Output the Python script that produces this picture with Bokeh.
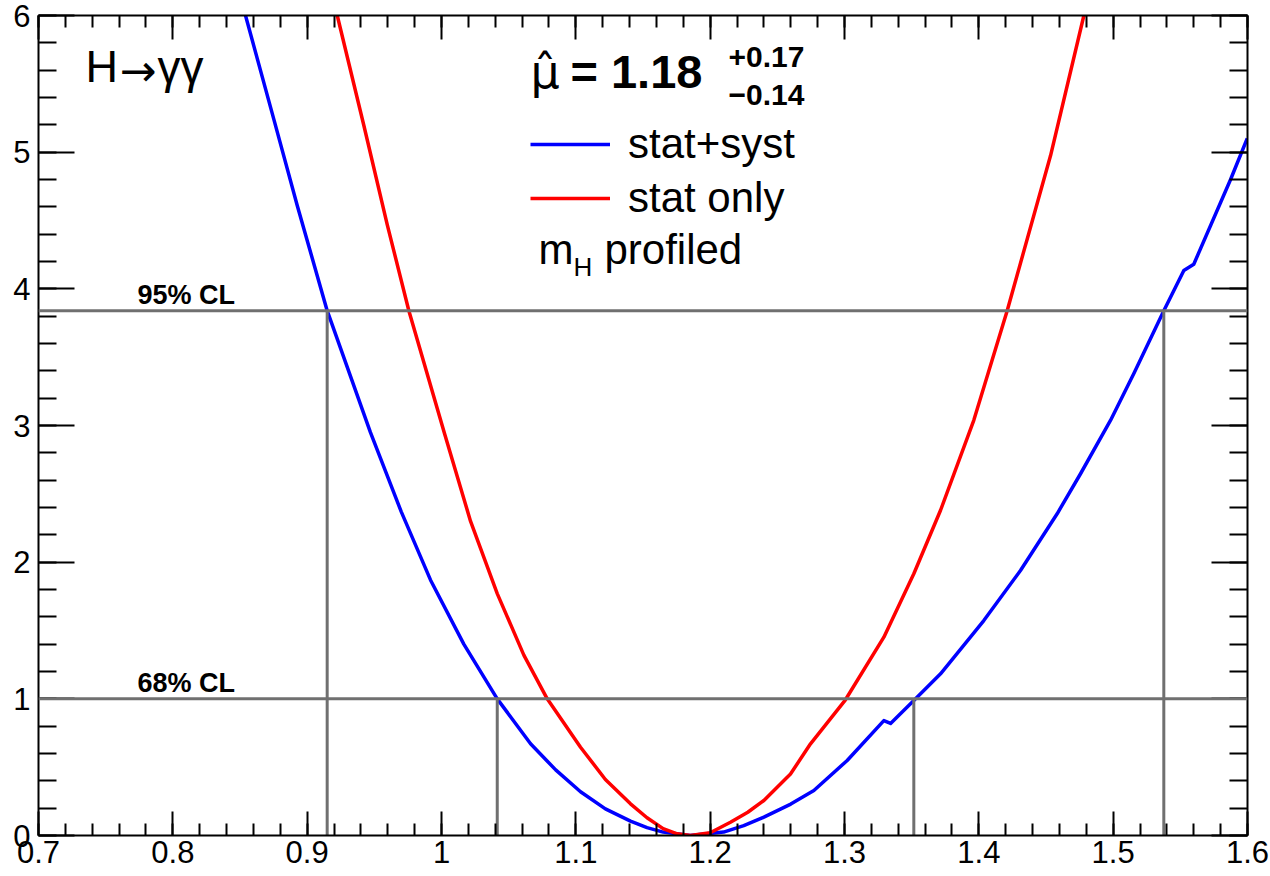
from bokeh.plotting import figure
from bokeh.models import (Range1d, LinearAxis, SingleIntervalTicker, CustomJSTickFormatter,
                          Label, Span, Legend, LegendItem)
from bokeh.embed import file_html
from bokeh.resources import INLINE

# ---- data ----
blue_x = [0.8541, 0.8752, 0.8926, 0.9149, 0.9471, 0.9700, 0.9918, 1.0166, 1.0415, 1.0663,
          1.0850, 1.1035, 1.1220, 1.1407, 1.1530, 1.1650, 1.1850, 1.2100, 1.2250, 1.2400,
          1.2600, 1.2772, 1.3020, 1.3293, 1.3343, 1.3516, 1.3715, 1.4037, 1.4310, 1.4583,
          1.4757, 1.4980, 1.5154, 1.5377, 1.5526, 1.5600, 1.5874, 1.5998]
blue_y = [6.00, 5.24, 4.61, 3.84, 2.95, 2.37, 1.87, 1.40, 1.00, 0.671,
          0.48, 0.32, 0.195, 0.105, 0.058, 0.025, 0.0, 0.025, 0.072, 0.134,
          0.23, 0.329, 0.549, 0.841, 0.82, 0.988, 1.183, 1.573, 1.939, 2.354,
          2.647, 3.037, 3.38, 3.84, 4.134, 4.18, 4.80, 5.10]

red_x = [0.9224, 0.9422, 0.9596, 0.9757, 1.0023, 1.0216, 1.0415, 1.0613, 1.0787, 1.1035,
         1.1220, 1.1407, 1.1530, 1.1650, 1.1754, 1.1854, 1.2000, 1.2151, 1.2280, 1.2400,
         1.2598, 1.2747, 1.3007, 1.3293, 1.3516, 1.3715, 1.3963, 1.4211, 1.4534, 1.4782]
red_y = [6.00, 5.195, 4.47, 3.84, 2.94, 2.30, 1.77, 1.32, 1.00, 0.646,
         0.41, 0.232, 0.13, 0.05, 0.012, 0.0, 0.02, 0.097, 0.17, 0.256,
         0.45, 0.671, 0.993, 1.451, 1.915, 2.38, 3.04, 3.84, 4.975, 6.00]

cl_levels = [1.0, 3.84]
cl_labels = ["68% CL", "95% CL"]
cl_lo = [1.0415, 0.9149]
cl_hi = [1.3516, 1.5377]

x_range = (0.7, 1.6)
y_range = (0.0, 6.0)

FONT = "Liberation Sans"

p = figure(width=1270, height=876, output_backend="svg", toolbar_location=None,
           x_range=Range1d(*x_range), y_range=Range1d(*y_range),
           min_border_left=38, min_border_right=23, min_border_top=15, min_border_bottom=41,
           x_axis_location=None, y_axis_location=None)
p.grid.visible = False
p.outline_line_color = None
p.background_fill_color = "white"
p.border_fill_color = "white"

fmt = CustomJSTickFormatter(code="return Number(tick.toFixed(2)).toString();")
empty_fmt = CustomJSTickFormatter(code="return '';")


def make_axis(kind, show_labels):
    ax = LinearAxis()
    if kind == "x":
        ax.ticker = SingleIntervalTicker(interval=0.1, num_minor_ticks=5)
        ax.major_tick_in, ax.minor_tick_in = 24, 12
    else:
        ax.ticker = SingleIntervalTicker(interval=1.0, num_minor_ticks=5)
        ax.major_tick_in, ax.minor_tick_in = 36, 18
    ax.major_tick_out = 0
    ax.minor_tick_out = 0
    ax.axis_line_width = 2
    ax.major_tick_line_width = 2
    ax.minor_tick_line_width = 2
    ax.axis_line_color = "black"
    ax.major_tick_line_color = "black"
    ax.minor_tick_line_color = "black"
    if show_labels:
        ax.formatter = fmt
        ax.major_label_text_font = FONT
        ax.major_label_text_font_size = "31px"
        ax.major_label_text_color = "black"
    else:
        ax.formatter = empty_fmt
        ax.major_label_text_font_size = "1px"
        ax.major_label_standoff = 0
    return ax


xb = make_axis("x", True)
xb.major_label_standoff = 5
p.add_layout(xb, "below")
p.add_layout(make_axis("x", False), "above")
yl = make_axis("y", True)
yl.major_label_standoff = 8
p.add_layout(yl, "left")
p.add_layout(make_axis("y", False), "right")

# curves
rb = p.line(blue_x, blue_y, line_color="#0000ff", line_width=3.5, line_join="round")
rr = p.line(red_x, red_y, line_color="#ff0000", line_width=3.5, line_join="round")

# CL lines
GRAY = "#707070"
for lev in cl_levels:
    p.add_layout(Span(location=lev, dimension="width", line_color=GRAY, line_width=3))
p.segment(x0=cl_lo, y0=[0, 0], x1=cl_lo, y1=cl_levels, line_color=GRAY, line_width=3)
p.segment(x0=cl_hi, y0=[0, 0], x1=cl_hi, y1=cl_levels, line_color=GRAY, line_width=3)

for lev, lab in zip(cl_levels, cl_labels):
    p.add_layout(Label(x=0.7737, y=lev + 0.115, text=lab, text_font=FONT, text_font_size="27px",
                       text_font_style="bold", text_baseline="alphabetic", text_color="black"))


def lbl(x, y, text, size, bold=False, font=FONT):
    p.add_layout(Label(x=x, y=y, text=text, text_font=font, text_font_size=size,
                       text_font_style="bold" if bold else "normal", text_align="left",
                       text_baseline="alphabetic", text_color="black"))


# H -> gamma gamma
lbl(0.7350, 5.625, "H", "45px")
lbl(0.7603, 5.600, "\u2192", "44px", font="DejaVu Sans")
lbl(0.7886, 5.625, "\u03b3\u03b3", "46px")

# mu-hat = 1.18 +0.17 -0.14
lbl(1.0663, 5.590, "\u03bc\u0302", "46px", font="DejaVu Sans")
lbl(1.0960, 5.590, "= 1.18", "47px", bold=True)
lbl(1.2137, 5.700, "+0.17", "30px", bold=True)
lbl(1.2137, 5.418, "\u22120.14", "30px", bold=True)

# m_H profiled
lbl(1.0722, 4.290, "m", "42px")
lbl(1.0983, 4.160, "H", "26px")
lbl(1.1213, 4.290, "profiled", "42px")

legend = Legend(items=[LegendItem(label="stat+syst", renderers=[rb]),
                       LegendItem(label="stat only", renderers=[rr])],
                location=(492, 613), padding=0, margin=0, spacing=6,
                glyph_width=80, glyph_height=44, label_height=44, label_standoff=18,
                label_text_font=FONT, label_text_font_size="42px", label_text_color="black",
                background_fill_alpha=0, border_line_alpha=0)
p.add_layout(legend)

open("out.html", "w").write(file_html(p, INLINE))
